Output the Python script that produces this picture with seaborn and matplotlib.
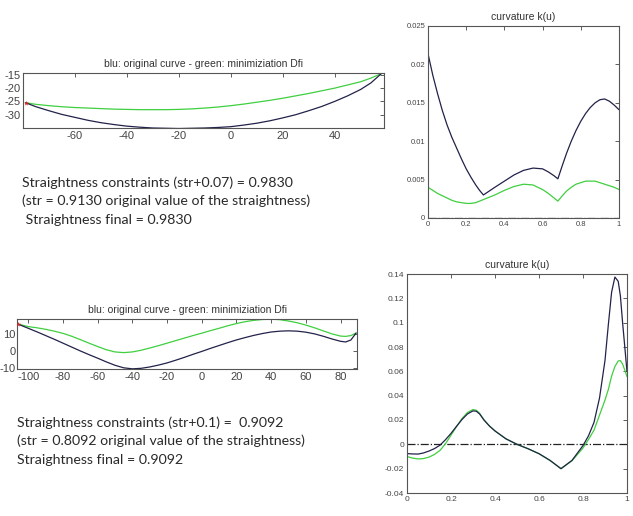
import matplotlib
matplotlib.use('Agg')
import matplotlib.pyplot as plt
import seaborn as sns

# top-left: planar curve (x, y)
tl_x = [-79, -75, -70, -65, -60, -55, -50, -45, -40, -35, -30, -25, -20, -15, -10, -5, 0, 5, 10, 15, 20, 25, 30, 35, 40, 45, 50, 54, 58]
tl_orig = [-25.5, -27.0, -28.5, -29.9, -31.0, -32.1, -33.0, -33.7, -34.3, -34.7, -35.0, -35.1, -35.2, -35.1, -35.0, -34.8, -34.5,
           -33.9, -33.2, -32.3, -31.2, -30.0, -28.5, -26.9, -25.0, -22.9, -20.5, -18.0, -14.5]
tl_min = [-25.5, -26.1, -26.6, -27.0, -27.3, -27.5, -27.7, -27.9, -28.0, -28.1, -28.1, -28.1, -28.0, -27.8, -27.5, -27.1, -26.6,
          -26.0, -25.3, -24.6, -23.8, -22.9, -22.0, -21.0, -20.0, -18.8, -17.6, -16.2, -14.5]

# bottom-left: planar curve (x, y)
bl_x = [-106, -100, -95, -90, -85, -80, -75, -70, -65, -60, -55, -50, -45, -40, -35, -30, -25, -20, -15, -10, -5, 0,
        5, 10, 15, 20, 25, 30, 35, 40, 45, 50, 55, 60, 65, 70, 75, 80, 83, 86, 89]
bl_orig = [16.0, 13.5, 11.4, 9.2, 7.0, 4.7, 2.4, 0.1, -2.1, -4.2, -6.4, -8.4, -9.9, -10.5, -10.2, -9.4, -8.3, -7.0, -5.4, -3.7, -1.9, -0.2,
           1.6, 3.3, 5.0, 6.6, 8.0, 9.3, 10.4, 11.3, 11.8, 12.0, 11.8, 11.2, 10.2, 8.8, 7.2, 5.8, 5.4, 6.6, 10.7]
bl_min = [16.0, 14.5, 13.8, 12.9, 11.8, 10.5, 8.8, 6.8, 4.7, 2.7, 0.8, -0.5, -0.9, -0.5, 0.5, 1.8, 3.2, 4.7, 6.2, 7.7, 9.2, 10.6,
          12.1, 13.5, 15.0, 16.3, 17.4, 18.2, 18.7, 18.9, 18.6, 17.8, 16.8, 15.4, 13.8, 12.0, 10.2, 8.9, 8.7, 9.2, 10.7]

# top-right: curvature k(u)
tr_u = [0, 0.025, 0.05, 0.075, 0.1, 0.125, 0.15, 0.175, 0.2, 0.225, 0.25, 0.27, 0.29, 0.32, 0.35, 0.4, 0.45, 0.5, 0.55,
        0.6, 0.63, 0.66, 0.68, 0.7, 0.725, 0.75, 0.775, 0.8, 0.825, 0.85, 0.875, 0.9, 0.925, 0.95, 0.975, 1.0]
tr_orig = [0.0214, 0.0186, 0.0162, 0.0140, 0.0121, 0.0105, 0.0091, 0.0077, 0.0064, 0.0053, 0.0043, 0.0036, 0.0030, 0.0035,
           0.0040, 0.0048, 0.0056, 0.0062, 0.0065, 0.0064, 0.0060, 0.0055, 0.0051, 0.0066, 0.0084, 0.0100, 0.0114, 0.0126,
           0.0136, 0.0144, 0.0150, 0.0154, 0.0155, 0.0152, 0.0147, 0.0141]
tr_min = [0.0040, 0.0036, 0.0032, 0.0029, 0.0026, 0.0023, 0.0021, 0.0020, 0.0019, 0.0019, 0.0020, 0.0022, 0.0024, 0.0027,
          0.0030, 0.0036, 0.0041, 0.0044, 0.0043, 0.0037, 0.0032, 0.0026, 0.0022, 0.0028, 0.0035, 0.0040, 0.0044, 0.0046,
          0.0048, 0.0048, 0.0048, 0.0046, 0.0044, 0.0042, 0.0040, 0.0037]

# bottom-right: curvature k(u)
br_u = [0, 0.025, 0.05, 0.075, 0.1, 0.125, 0.15, 0.175, 0.2, 0.225, 0.25, 0.275, 0.3, 0.315, 0.33, 0.35, 0.375, 0.4, 0.45,
        0.5, 0.55, 0.6, 0.65, 0.7, 0.75, 0.8, 0.825, 0.85, 0.875, 0.9, 0.915, 0.93, 0.945, 0.96, 0.97, 0.98, 0.99, 1.0]
br_orig = [-0.0076, -0.0079, -0.0080, -0.0071, -0.0055, -0.0035, -0.0007, 0.0038, 0.0090, 0.0148, 0.0204, 0.0250, 0.0275,
           0.0272, 0.0250, 0.0200, 0.0150, 0.0110, 0.0045, 0.0000, -0.0036, -0.0077, -0.0132, -0.0200, -0.0132, -0.0010,
           0.0070, 0.0180, 0.0380, 0.0690, 0.0980, 0.1250, 0.1375, 0.1340, 0.1220, 0.1000, 0.0800, 0.0597]
br_min = [-0.0100, -0.0113, -0.0120, -0.0117, -0.0105, -0.0083, -0.0050, 0.0005, 0.0075, 0.0145, 0.0212, 0.0262, 0.0286,
          0.0280, 0.0255, 0.0200, 0.0150, 0.0110, 0.0045, 0.0000, -0.0036, -0.0077, -0.0132, -0.0200, -0.0135, -0.0030,
          0.0040, 0.0116, 0.0240, 0.0364, 0.0450, 0.0560, 0.0640, 0.0685, 0.0688, 0.0660, 0.0610, 0.0556]

title_left = "blu: original curve - green: minimiziation Dfi"
title_right = "curvature k(u)"
text_top = ["Straightness constraints (str+0.07) = 0.9830",
            "(str = 0.9130 original value of the straightness)",
            " Straightness final = 0.9830"]
text_bottom = ["Straightness constraints (str+0.1) =  0.9092",
               "(str = 0.8092 original value of the straightness)",
               "Straightness final = 0.9092"]

BLUE = "#22224a"
GREEN = "#3fcf3f"

sns.set_style("white")
plt.rcParams['font.family'] = ['Liberation Sans', 'DejaVu Sans']
plt.rcParams['axes.unicode_minus'] = False

W, H = 633, 516
fig = plt.figure(figsize=(W / 100, H / 100), dpi=100)


def box(x0, y0, x1, y1):
    return [x0 / W, 1 - y1 / H, (x1 - x0) / W, (y1 - y0) / H]


def matlab_style(ax, size):
    ax.tick_params(direction='in', top=True, right=True, length=3, width=0.6,
                   labelsize=size, colors='#444444', pad=2)
    for s in ax.spines.values():
        s.set_color('#555555')
        s.set_linewidth(0.8)


def curve_panel(ax, x, orig, mini):
    sns.lineplot(x=x, y=mini, ax=ax, color=GREEN, linewidth=0.9)
    sns.lineplot(x=x, y=orig, ax=ax, color=BLUE, linewidth=0.9)
    sns.scatterplot(x=[x[0]], y=[orig[0]], ax=ax, color='#dd2222', s=14,
                    marker='*', linewidth=0, zorder=5)
    ax.set_title(title_left, fontsize=7.5, color='#333333', pad=4)


# top-left
ax1 = fig.add_axes(box(23, 73, 384, 128))
curve_panel(ax1, tl_x, tl_orig, tl_min)
ax1.set_xlim(-80, 59)
ax1.set_ylim(-35, -14.3)
ax1.set_xticks([-60, -40, -20, 0, 20, 40])
ax1.set_yticks([-15, -20, -25, -30])
matlab_style(ax1, 8)

# bottom-left
ax2 = fig.add_axes(box(17, 319, 357, 369))
curve_panel(ax2, bl_x, bl_orig, bl_min)
ax2.set_xlim(-106.5, 89.5)
ax2.set_ylim(-10.6, 19)
ax2.set_xticks([-100, -80, -60, -40, -20, 0, 20, 40, 60, 80])
ax2.set_yticks([-10, 0, 10])
matlab_style(ax2, 8)
ax2.tick_params(axis='y', pad=1)


def curvature_panel(ax, u, orig, mini):
    sns.lineplot(x=[0, 1], y=[0, 0], ax=ax, color='#222222', linewidth=0.9,
                 linestyle='-.')
    sns.lineplot(x=u, y=mini, ax=ax, color=GREEN, linewidth=0.9)
    sns.lineplot(x=u, y=orig, ax=ax, color=BLUE, linewidth=0.9)
    ax.set_title(title_right, fontsize=7.5, color='#333333', pad=4)
    ax.set_xlim(0, 1)
    ax.set_xticks([0, 0.2, 0.4, 0.6, 0.8, 1])
    ax.set_xticklabels(['0', '0.2', '0.4', '0.6', '0.8', '1'])


# top-right
ax3 = fig.add_axes(box(428, 26, 619, 218))
curvature_panel(ax3, tr_u, tr_orig, tr_min)
ax3.set_ylim(0, 0.025)
ax3.set_yticks([0, 0.005, 0.01, 0.015, 0.02, 0.025])
ax3.set_yticklabels(['0', '0.005', '0.01', '0.015', '0.02', '0.025'])
matlab_style(ax3, 5.5)

# bottom-right
ax4 = fig.add_axes(box(407, 274, 627, 493))
curvature_panel(ax4, br_u, br_orig, br_min)
ax4.set_ylim(-0.04, 0.14)
yt = [-0.04, -0.02, 0, 0.02, 0.04, 0.06, 0.08, 0.1, 0.12, 0.14]
ax4.set_yticks(yt)
ax4.set_yticklabels(['-0.04', '-0.02', '0', '0.02', '0.04', '0.06', '0.08', '0.1', '0.12', '0.14'])
matlab_style(ax4, 6)

# text blocks
for line, yp in zip(text_top, [183, 201, 220]):
    fig.text(22 / W, 1 - yp / H, line, fontsize=10.2, color='#2a2a2a',
             va='center', ha='left', family=['Lato', 'DejaVu Sans'])
for line, yp in zip(text_bottom, [423, 441, 460]):
    fig.text(17 / W, 1 - yp / H, line, fontsize=10.2, color='#2a2a2a',
             va='center', ha='left', family=['Lato', 'DejaVu Sans'])

fig.savefig('out.png', dpi=100)
